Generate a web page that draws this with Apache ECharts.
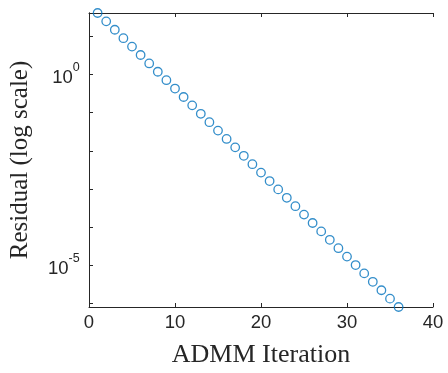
<!DOCTYPE html>
<html>
<head>
<meta charset="utf-8">
<script src="https://cdn.jsdelivr.net/npm/echarts@6/dist/echarts.min.js"></script>
<style>html,body{margin:0;padding:0;background:#fff}#c{width:448px;height:373px}</style>
</head>
<body>
<div id="c"></div>
<script>
var iterations = [1,2,3,4,5,6,7,8,9,10,11,12,13,14,15,16,17,18,19,20,21,22,23,24,25,26,27,28,29,30,31,32,33,34,35,36];
var residuals = [40.9, 24.7, 14.9, 8.93, 5.38, 3.24, 1.95, 1.18, 0.708, 0.427,
  0.257, 0.155, 0.0933, 0.0561, 0.0338, 0.0204, 0.0123, 0.00739, 0.00445, 0.00268,
  0.00161, 9.72e-4, 5.86e-4, 3.52e-4, 2.12e-4, 1.28e-4, 7.71e-5, 4.64e-5, 2.79e-5, 1.68e-5,
  1.01e-5, 6.11e-6, 3.68e-6, 2.21e-6, 1.33e-6, 8.03e-7];
var xTicks = [0, 10, 20, 30, 40];
var yLabelExponents = [0, -5];

var axisColor = '#262626';
var pts = iterations.map(function (x, i) { return [x, residuals[i]]; });

function yFmt(v) {
  var e = Math.log10(v);
  var r = Math.round(e);
  if (Math.abs(e - r) > 1e-6) return '';
  if (yLabelExponents.indexOf(r) < 0) return '';
  return '{b|10}{s|' + r + '}{p| }';
}

var xCommon = {
  type: 'value', min: xTicks[0], max: xTicks[xTicks.length - 1], interval: 10,
  axisLine: { show: true, lineStyle: { color: axisColor, width: 1 } },
  axisTick: { show: true, inside: true, length: 4, lineStyle: { color: axisColor } },
  splitLine: { show: false }
};
var yCommon = {
  type: 'log', logBase: 10, min: 'dataMin', max: 'dataMax', splitNumber: 8,
  axisLine: { show: true, lineStyle: { color: axisColor, width: 1 } },
  axisTick: { show: true, inside: true, length: 4, lineStyle: { color: axisColor } },
  splitLine: { show: false },
  minorTick: { show: false }
};

var chart = echarts.init(document.getElementById('c'), null, { renderer: 'canvas' });
chart.setOption({
  animation: false,
  backgroundColor: '#fff',
  grid: { left: 89, right: 15, top: 13, bottom: 65, containLabel: false },
  xAxis: [
    Object.assign({}, xCommon, {
      position: 'bottom',
      name: 'ADMM Iteration', nameLocation: 'middle', nameGap: 35,
      nameTextStyle: { fontFamily: 'Liberation Serif', fontSize: 26, color: axisColor },
      axisLabel: { show: true, margin: 6, fontFamily: 'Liberation Sans', fontSize: 18.5, color: axisColor,
        formatter: function (v) { return xTicks.indexOf(v) >= 0 ? String(v) : ''; } }
    }),
    Object.assign({}, xCommon, { position: 'top', axisLabel: { show: false } })
  ],
  yAxis: [
    Object.assign({}, yCommon, {
      position: 'left',
      name: 'Residual (log scale)', nameLocation: 'middle', nameGap: 56, nameRotate: 90,
      nameTextStyle: { fontFamily: 'Liberation Serif', fontSize: 25, color: axisColor },
      axisLabel: { show: true, margin: 9, color: axisColor, formatter: yFmt,
        rich: {
          b: { fontFamily: 'Liberation Sans', fontSize: 18.5, color: axisColor, verticalAlign: 'bottom', lineHeight: 19 },
          s: { fontFamily: 'Liberation Sans', fontSize: 12.5, color: axisColor, verticalAlign: 'top', lineHeight: 13 },
          p: { fontSize: 1, lineHeight: 26, verticalAlign: 'middle' }
        } }
    }),
    Object.assign({}, yCommon, { position: 'right', axisLabel: { show: false } })
  ],
  series: [{
    type: 'scatter', xAxisIndex: 0, yAxisIndex: 0, data: pts, clip: false,
    symbol: 'circle', symbolSize: 8.5,
    itemStyle: { color: 'rgba(0,0,0,0)', borderColor: '#0072BD', borderWidth: 1.3 }
  }]
});
</script>
</body>
</html>
